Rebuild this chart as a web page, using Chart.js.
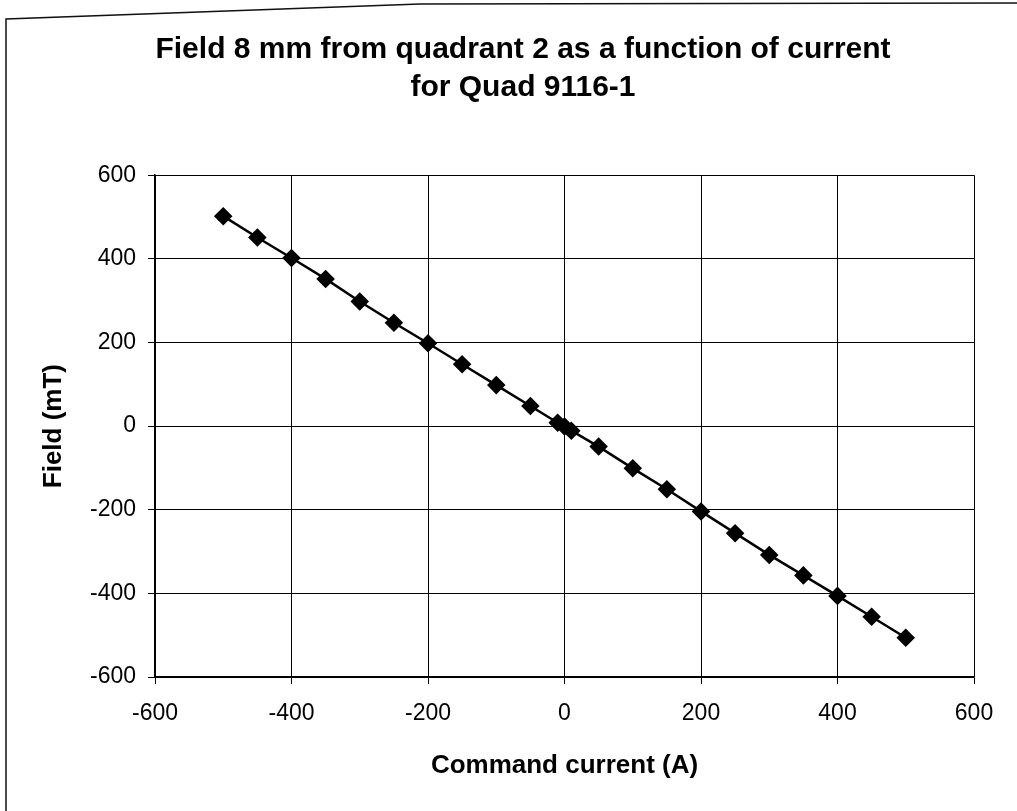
<!DOCTYPE html>
<html>
<head>
<meta charset="utf-8">
<title>Field vs command current</title>
<script src="https://cdn.jsdelivr.net/npm/chart.js@4/dist/chart.umd.min.js"></script>
<style>
  html, body { margin: 0; padding: 0; background: #fff; overflow: hidden; }
  #wrap { width: 1017px; height: 811px; }
</style>
</head>
<body>
<div id="wrap"><canvas id="grafica" width="1017" height="811"></canvas></div>
<script>
// datos
const titulo = ['Field 8 mm from quadrant 2 as a function of current', 'for Quad 9116-1'];
const tituloX = 'Command current (A)';
const tituloY = 'Field (mT)';
const corriente = [-500, -450, -400, -350, -300, -250, -200, -150, -100, -50, -10, 0, 10, 50, 100, 150, 200, 250, 300, 350, 400, 450, 500];
const campo = [502, 451, 402, 352, 298, 247, 198, 148, 98, 48, 8, -1, -11, -49, -101, -151, -204, -256, -308, -357, -406, -456, -506];
const ejeMin = -600, ejeMax = 600, paso = 200;

const fuente = "'Liberation Sans', Arial, sans-serif";

// marco del papel escaneado (borde izquierdo y superior)
const marco = {
    id: 'marco',
    afterDraw(chart) {
        const ctx = chart.ctx;
        ctx.save();
        ctx.strokeStyle = '#111';
        ctx.lineWidth = 1.5;
        ctx.beginPath();
        ctx.moveTo(6, 811);
        ctx.lineTo(6, 19);
        ctx.lineTo(420, 4);
        ctx.lineTo(1017, 3);
        ctx.stroke();
        ctx.restore();
    }
};

const puntos = corriente.map((x, i) => ({ x: x, y: campo[i] }));

new Chart(document.getElementById('grafica'), {
    type: 'line',
    data: {
        datasets: [{
            data: puntos,
            yAxisID: 'y',
            borderColor: '#000',
            backgroundColor: '#000',
            borderWidth: 2.5,
            pointStyle: 'rectRot',
            pointRadius: 7.5,
            pointHoverRadius: 7.5,
            tension: 0
        }]
    },
    options: {
        responsive: false,
        animation: false,
        layout: { padding: { left: 29, right: 0, top: 20, bottom: 10 } },
        plugins: {
            legend: { display: false },
            tooltip: { enabled: false },
            title: {
                display: true,
                text: titulo,
                color: '#000',
                font: { family: fuente, size: 30, weight: 'bold', lineHeight: 1.27 },
                padding: { top: 11, bottom: 68 }
            }
        },
        scales: {
            x: {
                type: 'linear',
                min: ejeMin, max: ejeMax,
                ticks: { stepSize: paso, color: '#000', padding: 16, font: { family: fuente, size: 23 } },
                grid: { color: '#000', lineWidth: 1, tickLength: 7 },
                border: { color: '#000', width: 1.5 },
                title: { display: true, text: tituloX, color: '#000', padding: { top: 0, bottom: 20 }, font: { family: fuente, size: 26, weight: 'bold' } },
                afterFit(s) { s.height = 124; }
            },
            y: {
                min: ejeMin, max: ejeMax,
                ticks: { stepSize: paso, color: '#000', padding: 12, font: { family: fuente, size: 23 } },
                grid: { color: '#000', lineWidth: 1, tickLength: 7 },
                border: { color: '#000', width: 1.5 },
                title: { display: true, text: tituloY, color: '#000', padding: { top: 9, bottom: 0 }, font: { family: fuente, size: 26, weight: 'bold' } },
                afterFit(s) { s.width = 126; }
            },
            // margen derecho del area del grafico
            derecha: {
                position: 'right',
                display: true,
                min: ejeMin, max: ejeMax,
                ticks: { display: false },
                grid: { display: false, drawTicks: false },
                border: { display: false },
                afterFit(s) { s.width = 43; }
            }
        }
    },
    plugins: [marco]
});
</script>
</body>
</html>
